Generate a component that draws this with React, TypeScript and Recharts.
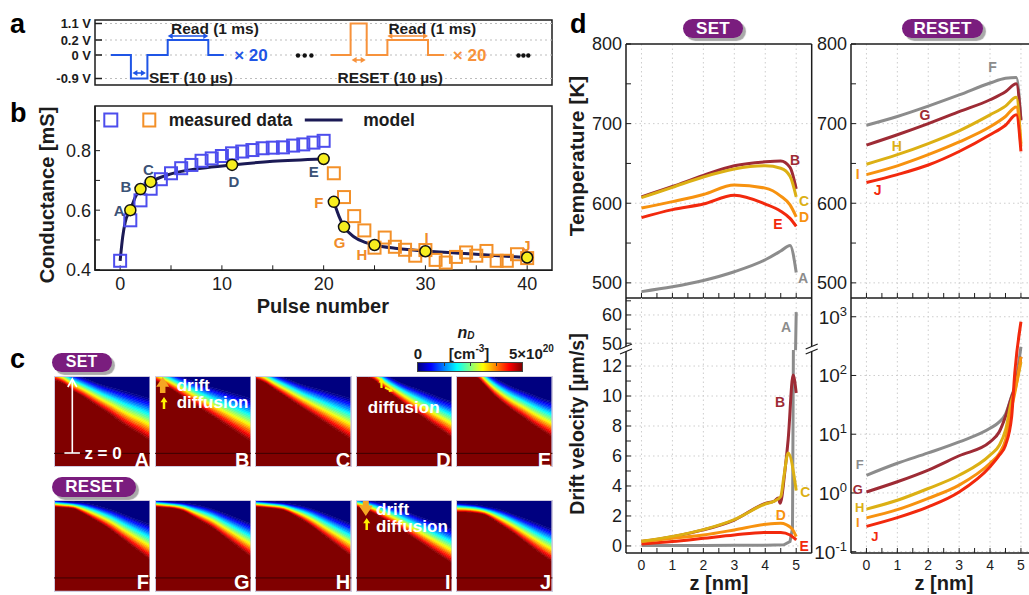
import React from 'react';
import {
  ComposedChart, AreaChart, Area, Line, Scatter, XAxis, YAxis, CartesianGrid,
  ReferenceArea, ReferenceLine, ReferenceDot,
} from 'recharts';

const FONT = 'Arial, "Liberation Sans", Helvetica, sans-serif';
const INK = '#1c1c1c';
const PURPLE = '#7a1d7e';

// ---------- a: pulse scheme (levels drawn schematically, not to scale) ----------
const voltLevels = [-0.9, 0, 0.2, 1.1];
const voltNames = ['-0.9 V', '0 V', '0.2 V', '1.1 V'];
const voltSlots = [-2.35, 0, 1.5, 3.15];
const setWaveT = [15.9, 35.9, 35.9, 52.4, 52.4, 72.7, 72.7, 113.3, 113.3, 128.8];
const setWaveV = [0, 0, -0.9, -0.9, 0, 0, 0.2, 0.2, 0, 0];
const resetWaveT = [235.6, 255.6, 255.6, 271.7, 271.7, 292.4, 292.4, 333, 333, 349.2];
const resetWaveV = [0, 0, 1.1, 1.1, 0, 0, 0.2, 0.2, 0, 0];

// ---------- b: conductance vs pulse number ----------
const setPulses = [0, 1, 2, 3, 4, 5, 6, 7, 8, 9, 10, 11, 12, 13, 14, 15, 16, 17, 18, 19, 20];
const setMeasured = [0.43, 0.566, 0.633, 0.672, 0.704, 0.724, 0.741, 0.752, 0.766, 0.774, 0.782,
  0.791, 0.797, 0.802, 0.808, 0.81, 0.811, 0.817, 0.821, 0.827, 0.833];
const resetPulses = [21, 22, 23, 24, 25, 26, 27, 28, 29, 30, 31, 32, 33, 34, 35, 36, 37, 38, 39, 40];
const resetMeasured = [0.724, 0.644, 0.58, 0.532, 0.474, 0.508, 0.477, 0.467, 0.447, 0.466,
  0.433, 0.424, 0.443, 0.458, 0.447, 0.463, 0.43, 0.43, 0.452, 0.439];
const setModelP = [0, 0.25, 0.5, 1, 1.5, 2, 3, 5, 8, 11, 15, 20];
const setModelG = [0.43, 0.51, 0.56, 0.6, 0.645, 0.671, 0.695, 0.722, 0.741, 0.752, 0.764, 0.772];
const resetModelP = [21, 21.5, 22, 23, 24, 25, 27, 30, 35, 40];
const resetModelG = [0.628, 0.58, 0.544, 0.51, 0.493, 0.483, 0.472, 0.463, 0.452, 0.441];
const stateNames = ['A', 'B', 'C', 'D', 'E', 'F', 'G', 'H', 'I', 'J'];
const statePulse = [1, 2, 3, 11, 20, 21, 22, 25, 30, 40];
const stateG = [0.6, 0.671, 0.695, 0.752, 0.772, 0.628, 0.544, 0.483, 0.462, 0.441];
const stateTagP = [-0.1, 0.58, 2.77, 11.17, 19.02, 19.53, 21.56, 23.76, 30.12, 39.93];
const stateTagG = [0.599, 0.679, 0.736, 0.696, 0.729, 0.626, 0.492, 0.452, 0.509, 0.482];

// ---------- c: donor density maps (edge of the saturated region / start of the empty region) ----------
const heatX = [0, 0.1, 0.2, 0.3, 0.4, 0.5, 0.6, 0.7, 0.8, 0.9, 1];
const fullA = [0.96, 0.92, 0.84, 0.78, 0.71, 0.64, 0.57, 0.49, 0.42, 0.36, 0.29];
const emptyA = [1.12, 1.07, 1.02, 0.98, 0.94, 0.9, 0.87, 0.84, 0.81, 0.78, 0.75];
const fullB = [0.95, 0.9, 0.84, 0.77, 0.7, 0.63, 0.56, 0.49, 0.42, 0.35, 0.28];
const emptyB = [1.12, 1.07, 1.02, 0.98, 0.94, 0.9, 0.87, 0.84, 0.81, 0.78, 0.75];
const fullC = [0.97, 0.93, 0.86, 0.79, 0.72, 0.65, 0.58, 0.51, 0.44, 0.37, 0.3];
const emptyC = [1.12, 1.07, 1.02, 0.98, 0.94, 0.9, 0.87, 0.84, 0.81, 0.78, 0.75];
const fullD = [1.03, 1.0, 0.95, 0.86, 0.78, 0.7, 0.62, 0.55, 0.47, 0.4, 0.32];
const emptyD = [1.3, 1.2, 1.1, 1.02, 0.96, 0.91, 0.87, 0.83, 0.79, 0.75, 0.72];
const fullE = [1.05, 1.03, 1.0, 0.9, 0.79, 0.7, 0.62, 0.55, 0.47, 0.4, 0.33];
const emptyE = [1.4, 1.3, 1.2, 1.06, 0.98, 0.92, 0.87, 0.83, 0.79, 0.75, 0.72];
const fullF = [0.93, 0.92, 0.91, 0.86, 0.8, 0.74, 0.67, 0.59, 0.51, 0.43, 0.35];
const emptyF = [1.0, 0.99, 0.98, 0.97, 0.95, 0.92, 0.89, 0.85, 0.81, 0.77, 0.73];
const fullG = [0.93, 0.92, 0.91, 0.88, 0.82, 0.76, 0.7, 0.62, 0.54, 0.46, 0.38];
const emptyG = [1.0, 0.99, 0.98, 0.97, 0.95, 0.93, 0.9, 0.86, 0.82, 0.78, 0.74];
const fullH = [0.93, 0.92, 0.91, 0.89, 0.84, 0.78, 0.71, 0.63, 0.55, 0.47, 0.39];
const emptyH = [1.0, 0.99, 0.98, 0.97, 0.95, 0.93, 0.9, 0.86, 0.82, 0.78, 0.74];
const fullI = [0.93, 0.9, 0.85, 0.79, 0.73, 0.66, 0.59, 0.52, 0.45, 0.38, 0.31];
const emptyI = [1.02, 1.0, 0.98, 0.95, 0.92, 0.88, 0.84, 0.8, 0.76, 0.72, 0.68];
const fullJ = [0.87, 0.87, 0.86, 0.84, 0.78, 0.71, 0.64, 0.56, 0.48, 0.4, 0.33];
const emptyJ = [0.97, 0.96, 0.95, 0.93, 0.91, 0.88, 0.84, 0.8, 0.76, 0.72, 0.68];

// ---------- d: temperature and drift velocity along z ----------
const tempZSet = [0, 1, 2, 3, 4, 4.5, 4.8, 5];
const tempA = [489, 495, 503, 514, 529, 540, 547, 513];
const tempB = [608, 621, 635, 647, 652, 653, 645, 618];
const tempC = [607, 620, 633, 643, 647, 644, 634, 608];
const tempD = [594, 602, 611, 623, 619, 609, 598, 583];
const tempE = [582, 592, 599, 610, 599, 590, 581, 571];
const tempZReset = [0, 1, 2, 3, 4, 4.5, 4.85, 5];
const tempF = [698, 709, 722, 736, 751, 757, 758, 705];
const tempG = [673, 686, 700, 715, 730, 740, 750, 704];
const tempH = [649, 661, 675, 691, 711, 722, 733, 675];
const tempI = [636, 647, 661, 677, 696, 709, 721, 671];
const tempJ = [626, 636, 648, 665, 686, 698, 711, 665];

const velZA = [0, 1, 2, 3, 4, 4.6, 4.8, 4.88, 4.95, 5];
const velA = [0.03, 0.03, 0.03, 0.04, 0.05, 0.08, 0.3, 1.2, 30, 61];
const velZB = [0, 1, 2, 3, 4, 4.3, 4.42, 4.48, 4.64, 4.74, 4.9, 5];
const velB = [0.3, 0.62, 1.07, 1.73, 2.84, 3.0, 3.2, 2.85, 5.1, 7.1, 11.4, 10.2];
const velZC = [0, 1, 2, 3, 4, 4.3, 4.5, 4.6, 4.74, 5];
const velC = [0.32, 0.64, 1.09, 1.76, 2.8, 3.0, 3.3, 4.6, 6.2, 3.7];
const velZD = [0, 1, 2, 3, 4, 4.5, 4.85, 5];
const velD = [0.29, 0.51, 0.73, 1.07, 1.44, 1.52, 1.18, 0.62];
const velZE = [0, 1, 2, 3, 4, 4.5, 4.8, 5];
const velE = [0.13, 0.29, 0.51, 0.73, 0.9, 0.89, 0.73, 0.4];
const velZReset = [0, 1, 2, 3, 4, 4.3, 4.5, 4.7, 4.8, 5];
const velF = [2.0, 3.2, 4.8, 7.4, 12.6, 16.2, 22, 45, 65, 309];
const velG = [1.04, 1.55, 2.45, 4.3, 7.4, 11, 20, 43.6, 60, 209];
const velH = [0.53, 0.75, 1.19, 2.0, 4.4, 6.5, 11.7, 38, 55, 170];
const velI = [0.377, 0.52, 0.81, 1.36, 3.2, 4.7, 7.9, 29, 50, 209];
const velJ = [0.27, 0.38, 0.58, 1.04, 2.8, 4.4, 6.5, 20, 110, 822];

const GREY = '#8c8c8c';
const MAROON = '#9e2b35';
const GOLD = '#dcb014';
const ORANGE = '#f7920f';
const RED = '#f2290d';

// ---------- helpers ----------
const PAD = 14;
const frame = (x: number, y: number, w: number, h: number, yw = 0, xh = 0) => ({
  style: { position: 'absolute', left: x - yw - PAD, top: y - PAD } as React.CSSProperties,
  width: w + yw + 2 * PAD,
  height: h + xh + 2 * PAD,
  margin: { top: PAD, right: PAD, bottom: PAD, left: PAD },
});

const zip = (xs: number[], ys: number[], kx: string, ky: string) =>
  xs.map((x, i) => ({ [kx]: x, [ky]: ys[i] }));

const slotOf = (v: number) => {
  for (let i = 0; i < voltLevels.length - 1; i++) {
    if (v <= voltLevels[i + 1]) {
      const f = (v - voltLevels[i]) / (voltLevels[i + 1] - voltLevels[i]);
      return voltSlots[i] + f * (voltSlots[i + 1] - voltSlots[i]);
    }
  }
  return voltSlots[voltSlots.length - 1];
};

const jet = (t: number) => {
  const c = (v: number) => Math.round(255 * Math.max(0, Math.min(1, v)));
  return `rgb(${c(1.5 - Math.abs(4 * t - 3))},${c(1.5 - Math.abs(4 * t - 2))},${c(1.5 - Math.abs(4 * t - 1))})`;
};
const HEAT_BANDS = 24;
const bandKeys = Array.from({ length: HEAT_BANDS }, (_, k) => 'b' + k);
const bandColors = bandKeys.map((_, k) => jet(1 - (k + 0.5) / HEAT_BANDS));

const Txt = ({ x, y, size = 15, bold = true, anchor = 'start', color = INK, italic = false, rotate = false, children }: any) => (
  <text x={x} y={y} fontSize={size} fontWeight={bold ? 700 : 400} fontStyle={italic ? 'italic' : 'normal'}
    textAnchor={anchor} dominantBaseline="central" fill={color} fontFamily={FONT}
    transform={rotate ? `rotate(-90 ${x} ${y})` : undefined}>{children}</text>
);

const Pill = ({ x, y, w, h, text, size }: any) => (
  <div style={{
    position: 'absolute', left: x, top: y, width: w, height: h, borderRadius: h / 2, background: PURPLE,
    boxShadow: '3px 3px 1px #a9a9a9', color: '#fff', fontWeight: 700, fontSize: size, fontFamily: FONT,
    display: 'flex', alignItems: 'center', justifyContent: 'center', letterSpacing: 0.3,
  }}>{text}</div>
);

// ---------- panel a ----------
const PanelA = () => {
  const f = frame(95, 20, 457, 65, 80, 0);
  return (
    <div style={f.style}>
      <ComposedChart width={f.width} height={f.height} margin={f.margin}>
        <XAxis type="number" dataKey="t" domain={[0, 457]} hide />
        <YAxis type="number" dataKey="s" domain={[-3.0, 3.5]} ticks={voltSlots} interval={0}
          tickFormatter={(s: number) => voltNames[voltSlots.indexOf(s)]} width={80} tickSize={-7} tickMargin={11}
          tick={{ fontSize: 13, fontWeight: 700, fill: INK, fontFamily: FONT }} axisLine={false}
          tickLine={{ stroke: INK, strokeWidth: 1.5 }} />
        {voltSlots.map((s) => (
          <ReferenceLine key={s} y={s} stroke="#bdbdbd" strokeDasharray="2 3" />
        ))}
        <ReferenceArea x1={0} x2={457} y1={-3.0} y2={3.5} fill="none" stroke={INK} strokeWidth={1.5} />
        <Line data={setWaveT.map((t, i) => ({ t, s: slotOf(setWaveV[i]) }))} dataKey="s" type="linear"
          stroke="#1f55e6" strokeWidth={2} dot={false} isAnimationActive={false} />
        <Line data={resetWaveT.map((t, i) => ({ t, s: slotOf(resetWaveV[i]) }))} dataKey="s" type="linear"
          stroke="#f7923b" strokeWidth={2} dot={false} isAnimationActive={false} />
      </ComposedChart>
    </div>
  );
};

// ---------- panel b ----------
const hollowSquare = (color: string) => (p: any) =>
  p.cx == null ? <g /> : <rect x={p.cx - 6} y={p.cy - 6} width={12} height={12} fill="none" stroke={color} strokeWidth={2} />;
const yellowDot = (p: any) =>
  p.cx == null ? <g /> : <circle cx={p.cx} cy={p.cy} r={5.5} fill="#f7ee1f" stroke="#111" strokeWidth={1.5} />;

const PanelB = () => {
  const f = frame(94.7, 105.7, 457, 164.3, 75, 40);
  const xDom: [number, number] = [-2.47, 42.44];
  const yDom: [number, number] = [0.398, 0.95];
  const yMajor = [0.4, 0.6, 0.8];
  return (
    <div style={f.style}>
      <ComposedChart width={f.width} height={f.height} margin={f.margin}>
        <XAxis type="number" dataKey="p" domain={xDom} allowDataOverflow ticks={[0, 5, 10, 15, 20, 25, 30, 35, 40]}
          interval={0} tickFormatter={(v: number) => (v % 10 === 0 ? String(v) : '')} height={40} tickSize={-5}
          tickMargin={12} tick={{ fontSize: 18, fill: INK, fontFamily: FONT }} axisLine={{ stroke: INK, strokeWidth: 1.5 }}
          tickLine={{ stroke: INK }} />
        <YAxis type="number" dataKey="g" domain={yDom} allowDataOverflow ticks={[0.4, 0.5, 0.6, 0.7, 0.8, 0.9]}
          interval={0} tickFormatter={(v: number) => (yMajor.includes(v) ? v.toFixed(1) : '')} width={75}
          tickSize={-5} tickMargin={9} tick={{ fontSize: 18, fill: INK, fontFamily: FONT }}
          axisLine={{ stroke: INK, strokeWidth: 1.5 }} tickLine={{ stroke: INK }} />
        <ReferenceArea x1={xDom[0]} x2={xDom[1]} y1={yDom[0]} y2={yDom[1]} fill="none" stroke={INK} strokeWidth={1.5} />
        <Scatter data={zip(setPulses, setMeasured, 'p', 'g')} dataKey="g" shape={hollowSquare('#4d4ded')} isAnimationActive={false} />
        <Scatter data={zip(resetPulses, resetMeasured, 'p', 'g')} dataKey="g" shape={hollowSquare('#f39028')} isAnimationActive={false} />
        <Line data={zip(setModelP, setModelG, 'p', 'g')} dataKey="g" type="monotone" stroke="#1b1a55" strokeWidth={3}
          dot={false} isAnimationActive={false} />
        <Line data={zip(resetModelP, resetModelG, 'p', 'g')} dataKey="g" type="monotone" stroke="#1b1a55" strokeWidth={3}
          dot={false} isAnimationActive={false} />
        <Scatter data={zip(statePulse, stateG, 'p', 'g')} dataKey="g" shape={yellowDot} isAnimationActive={false} />
        {stateNames.map((n, i) => (
          <ReferenceDot key={n} x={stateTagP[i]} y={stateTagG[i]} r={1} fill="none" stroke="none"
            label={{ value: n, position: 'center', fill: i < 5 ? '#3b5276' : '#f08c2a', fontSize: 15, fontWeight: 700, fontFamily: FONT }} />
        ))}
      </ComposedChart>
    </div>
  );
};

// ---------- panel c ----------
const heatRows = (full: number[], empty: number[]) =>
  heatX.map((x, i) => {
    const row: Record<string, number> = { x, L: full[i], T: 2 - empty[i] };
    const step = (empty[i] - full[i]) / HEAT_BANDS;
    bandKeys.forEach((k) => { row[k] = step; });
    return row;
  });

const HeatPanel = ({ x, y, w, h, full, empty }: any) => (
  <div style={{ position: 'absolute', left: x, top: y }}>
    <AreaChart width={w} height={h} data={heatRows(full, empty)} margin={{ top: 0, right: 0, bottom: 0, left: 0 }}>
      <XAxis type="number" dataKey="x" domain={[0, 1]} hide />
      <YAxis type="number" domain={[0, 1]} hide allowDataOverflow />
      <Area dataKey="L" stackId="n" type="monotone" fill={jet(1)} stroke={jet(1)} fillOpacity={1} isAnimationActive={false} />
      {bandKeys.map((k, i) => (
        <Area key={k} dataKey={k} stackId="n" type="monotone" fill={bandColors[i]} stroke={bandColors[i]}
          strokeWidth={0.8} fillOpacity={1} isAnimationActive={false} />
      ))}
      <Area dataKey="T" stackId="n" type="monotone" fill={jet(0)} stroke="none" fillOpacity={1} isAnimationActive={false} />
      <ReferenceLine y={0.15} stroke="#3a0000" strokeWidth={1} />
      <ReferenceArea x1={0} x2={1} y1={0} y2={1} fill="none" stroke="#cfcadf" strokeWidth={2} />
    </AreaChart>
  </div>
);

const heatSet = [[fullA, emptyA], [fullB, emptyB], [fullC, emptyC], [fullD, emptyD], [fullE, emptyE]];
const heatReset = [[fullF, emptyF], [fullG, emptyG], [fullH, emptyH], [fullI, emptyI], [fullJ, emptyJ]];
const HX0 = 54.1;
const HSTEP = 100.55;
const HW = 96.4;

// ---------- panel d ----------
const zDom: [number, number] = [-0.5, 5.5];
const zTicks = [0, 0.5, 1, 1.5, 2, 2.5, 3, 3.5, 4, 4.5, 5];
const zMajor = [0, 1, 2, 3, 4, 5];

const PowTick = (p: any) => {
  const e = Math.round(Math.log10(p.payload.value));
  return (
    <text x={p.x} y={p.y} dy="0.36em" textAnchor="end" fontSize={19} fill={INK} fontFamily={FONT}>
      10<tspan dy={-8} fontSize={13}>{e}</tspan>
    </text>
  );
};

const CurvePlot = ({ x, y, w, h, domain, ticks, major, grid, log = false, series, tags = [], tagSize = 14, bottom = true, xLabels = false, top = false }: any) => {
  const yw = 56;
  const xh = xLabels ? 26 : 1;
  const f = frame(x, y, w, h, yw, bottom ? xh : 0);
  return (
    <div style={f.style}>
      <ComposedChart width={f.width} height={f.height} margin={f.margin}>
        <CartesianGrid stroke="#cdcdcd" strokeDasharray="1.5 3" horizontalValues={grid} verticalValues={zMajor} />
        <XAxis type="number" dataKey="z" domain={zDom} allowDataOverflow ticks={zTicks} interval={0} hide={!bottom}
          height={xh} tickSize={-5} tickMargin={12}
          tickFormatter={(v: number) => (xLabels && Number.isInteger(v) ? String(v) : '')}
          tick={{ fontSize: 14, fill: INK, fontFamily: FONT }} axisLine={{ stroke: INK, strokeWidth: 1.5 }}
          tickLine={{ stroke: INK }} />
        <YAxis type="number" dataKey="v" scale={log ? 'log' : 'linear'} domain={domain} allowDataOverflow ticks={ticks}
          interval={0} width={yw} tickSize={-5} tickMargin={9}
          tick={log ? <PowTick /> : { fontSize: 18, fill: INK, fontFamily: FONT }}
          tickFormatter={(v: number) => (major.includes(v) ? String(v) : '')}
          axisLine={{ stroke: INK, strokeWidth: 1.5 }} tickLine={{ stroke: INK }} />
        <ReferenceLine x={zDom[1]} stroke={INK} strokeWidth={1.5} />
        {top && <ReferenceLine y={domain[1]} stroke={INK} strokeWidth={1.5} />}
        {series.map((s: any, i: number) => (
          <Line key={i} data={zip(s.z, s.v, 'z', 'v')} dataKey="v" type={s.linear ? 'linear' : 'monotone'}
            stroke={s.color} strokeWidth={3} dot={false} isAnimationActive={false} />
        ))}
        {tags.map((t: any) => (
          <ReferenceDot key={t.text} x={t.z} y={t.v} r={1} fill="none" stroke="none"
            label={{ value: t.text, position: 'center', fill: t.color, fontSize: tagSize, fontWeight: 700, fontFamily: FONT }} />
        ))}
      </ComposedChart>
    </div>
  );
};

const tempSetSeries = [
  { z: tempZSet, v: tempA, color: GREY }, { z: tempZSet, v: tempB, color: MAROON },
  { z: tempZSet, v: tempC, color: GOLD }, { z: tempZSet, v: tempD, color: ORANGE },
  { z: tempZSet, v: tempE, color: RED },
];
const tempResetSeries = [
  { z: tempZReset, v: tempF, color: GREY }, { z: tempZReset, v: tempG, color: MAROON },
  { z: tempZReset, v: tempH, color: GOLD }, { z: tempZReset, v: tempI, color: ORANGE },
  { z: tempZReset, v: tempJ, color: RED },
];
const velSetSeries = [
  { z: velZA, v: velA, color: GREY, linear: true }, { z: velZB, v: velB, color: MAROON },
  { z: velZE, v: velE, color: RED }, { z: velZD, v: velD, color: ORANGE }, { z: velZC, v: velC, color: GOLD },
];
const velResetSeries = [
  { z: velZReset, v: velF, color: GREY }, { z: velZReset, v: velG, color: MAROON },
  { z: velZReset, v: velH, color: GOLD }, { z: velZReset, v: velI, color: ORANGE },
  { z: velZReset, v: velJ, color: RED },
];
const tempSetTags = [
  { text: 'A', z: 5.22, v: 506, color: GREY }, { text: 'B', z: 4.96, v: 654, color: MAROON },
  { text: 'C', z: 5.25, v: 603, color: GOLD }, { text: 'D', z: 5.25, v: 583, color: ORANGE },
  { text: 'E', z: 4.41, v: 574, color: RED },
];
const tempResetTags = [
  { text: 'F', z: 4.08, v: 771, color: GREY }, { text: 'G', z: 1.89, v: 711, color: MAROON },
  { text: 'H', z: 0.98, v: 672, color: GOLD }, { text: 'I', z: -0.28, v: 637, color: ORANGE },
  { text: 'J', z: 0.36, v: 616, color: RED },
];
const velUpperTags = [{ text: 'A', z: 4.67, v: 55.8, color: GREY }];
const velLowerTags = [
  { text: 'B', z: 4.48, v: 9.6, color: MAROON }, { text: 'C', z: 5.29, v: 3.6, color: GOLD },
  { text: 'D', z: 4.5, v: 2.07, color: ORANGE }, { text: 'E', z: 5.26, v: 0.0, color: RED },
];
const velResetTags = [
  { text: 'F', z: -0.22, v: 3.1, color: GREY }, { text: 'G', z: -0.28, v: 1.16, color: MAROON },
  { text: 'H', z: -0.22, v: 0.56, color: GOLD }, { text: 'I', z: -0.28, v: 0.31, color: ORANGE },
  { text: 'J', z: 0.27, v: 0.18, color: RED },
];

// ---------- overlay shapes ----------
const DoubleArrow = ({ x1, x2, y, color }: any) => (
  <g>
    <line x1={x1 + 3} y1={y} x2={x2 - 3} y2={y} stroke={color} strokeWidth={1.6} />
    <polygon points={`${x1},${y} ${x1 + 5},${y - 3} ${x1 + 5},${y + 3}`} fill={color} />
    <polygon points={`${x2},${y} ${x2 - 5},${y - 3} ${x2 - 5},${y + 3}`} fill={color} />
  </g>
);

const BlockArrow = ({ x1, y1, x2, y2, head, shaft, color }: any) => {
  const len = Math.hypot(x2 - x1, y2 - y1);
  const ux = (x2 - x1) / len;
  const uy = (y2 - y1) / len;
  const px = -uy;
  const py = ux;
  const hl = head * 0.75;
  const nx = x2 - ux * hl;
  const ny = y2 - uy * hl;
  const pts = [
    [x1 + px * shaft / 2, y1 + py * shaft / 2], [nx + px * shaft / 2, ny + py * shaft / 2],
    [nx + px * head / 2, ny + py * head / 2], [x2, y2], [nx - px * head / 2, ny - py * head / 2],
    [nx - px * shaft / 2, ny - py * shaft / 2], [x1 - px * shaft / 2, y1 - py * shaft / 2],
  ];
  return <polygon points={pts.map((q) => q.join(',')).join(' ')} fill={color} />;
};

const BreakMark = ({ x, y }: any) => (
  <g>
    <polygon points={`${x - 6},${y - 1} ${x + 6},${y - 6} ${x + 6},${y - 1} ${x - 6},${y + 4}`} fill="#fff" />
    <line x1={x - 6} y1={y - 1} x2={x + 6} y2={y - 6} stroke={INK} strokeWidth={1.3} />
    <line x1={x - 6} y1={y + 4} x2={x + 6} y2={y - 1} stroke={INK} strokeWidth={1.3} />
  </g>
);

const Overlay = () => {
  const ax = (t: number) => 95 + t;
  return (
    <svg width={1029} height={595} style={{ position: 'absolute', left: 0, top: 0, pointerEvents: 'none' }}>
      {/* panel letters */}
      <text x={10} y={33} fontSize={27} fontWeight={700} fontFamily={FONT} fill="#000">a</text>
      <text x={10} y={122} fontSize={27} fontWeight={700} fontFamily={FONT} fill="#000">b</text>
      <text x={10} y={368} fontSize={27} fontWeight={700} fontFamily={FONT} fill="#000">c</text>
      <text x={570} y={33} fontSize={27} fontWeight={700} fontFamily={FONT} fill="#000">d</text>

      {/* a */}
      <DoubleArrow x1={ax(setWaveT[6])} x2={ax(setWaveT[7])} y={36} color="#1f55e6" />
      <DoubleArrow x1={ax(setWaveT[2]) + 1.5} x2={ax(setWaveT[3]) - 1.5} y={73} color="#1f55e6" />
      <DoubleArrow x1={ax(resetWaveT[6])} x2={ax(resetWaveT[7])} y={36} color="#f7923b" />
      <DoubleArrow x1={ax(resetWaveT[2]) + 1} x2={ax(resetWaveT[3]) - 1} y={60} color="#f7923b" />
      <Txt x={171} y={28} size={15.5}>Read (1 ms)</Txt>
      <Txt x={388.4} y={28} size={15.5}>Read (1 ms)</Txt>
      <Txt x={149} y={77} size={15.5}>SET (10 µs)</Txt>
      <Txt x={337.5} y={77} size={15.5}>RESET (10 µs)</Txt>
      <Txt x={234.2} y={55} size={17} color="#1f55e6">× 20</Txt>
      <Txt x={452.8} y={55} size={17} color="#f7923b">× 20</Txt>
      {[298, 304.7, 311.4, 518.5, 523.4, 528.3].map((cx) => (
        <circle key={cx} cx={cx} cy={55.5} r={2.2} fill="#111" />
      ))}

      {/* b */}
      <rect x={104.3} y={113.5} width={13} height={13} fill="none" stroke="#4d4ded" strokeWidth={2} />
      <rect x={143.3} y={113.5} width={12} height={13} fill="none" stroke="#f39028" strokeWidth={2} />
      <Txt x={168.7} y={120} size={17.5}>measured data</Txt>
      <line x1={304.8} y1={120} x2={342.6} y2={120} stroke="#1b1a55" strokeWidth={3} />
      <Txt x={363.3} y={120} size={17.5}>model</Txt>
      <Txt x={46.5} y={195} size={20} anchor="middle" rotate>Conductance [mS]</Txt>
      <Txt x={322.8} y={306} size={20} anchor="middle">Pulse number</Txt>

      {/* c annotations */}
      <line x1={72.3} y1={453} x2={72.3} y2={380} stroke="#fff" strokeWidth={1.6} />
      <polyline points="67.8,387 72.3,379 76.8,387" fill="none" stroke="#fff" strokeWidth={1.6} />
      <line x1={64.4} y1={453} x2={79.9} y2={453} stroke="#fff" strokeWidth={1.6} />
      <Txt x={84.4} y={453} size={17} color="#fff">z = 0</Txt>
      <BlockArrow x1={162.7} y1={393} x2={162.7} y2={377} head={13} shaft={5.5} color="#f5a623" />
      <BlockArrow x1={164} y1={409} x2={164} y2={397} head={7} shaft={2.5} color="#fff200" />
      <Txt x={176.7} y={385} size={17} color="#fff">drift</Txt>
      <Txt x={176.7} y={402} size={17} color="#fff">diffusion</Txt>
      <BlockArrow x1={381.5} y1={388} x2={381.5} y2={378} head={6} shaft={2.2} color="#fff200" />
      <BlockArrow x1={385} y1={387.5} x2={393} y2={391.5} head={5} shaft={2} color="#fff200" />
      <Txt x={367.8} y={407} size={17} color="#fff">diffusion</Txt>
      <BlockArrow x1={365.8} y1={501} x2={365.8} y2={516} head={14} shaft={6} color="#f5a623" />
      <BlockArrow x1={366.7} y1={530} x2={366.7} y2={518} head={7} shaft={2.5} color="#fff200" />
      <Txt x={376} y={509} size={17} color="#fff">drift</Txt>
      <Txt x={376} y={526} size={17} color="#fff">diffusion</Txt>
      {stateNames.map((n, i) => (
        <Txt key={n} x={HX0 + (i % 5) * HSTEP + HW - 1.5} y={i < 5 ? 460 : 582} size={20} anchor="end" color="#fff">{n}</Txt>
      ))}
      <Txt x={418} y={353} size={15} anchor="middle">0</Txt>
      <text x={469} y={353} fontSize={15} fontWeight={700} fontFamily={FONT} textAnchor="middle" dominantBaseline="central" fill={INK}>
        [cm<tspan dy={-5} fontSize={10}>-3</tspan><tspan dy={5}>]</tspan>
      </text>
      <text x={509} y={353} fontSize={15} fontWeight={700} fontFamily={FONT} dominantBaseline="central" fill={INK}>
        5×10<tspan dy={-5} fontSize={10}>20</tspan>
      </text>
      <text x={466} y={332} fontSize={16} fontWeight={700} fontStyle="italic" fontFamily={FONT} textAnchor="middle" dominantBaseline="central" fill={INK}>
        n<tspan dy={3} fontSize={10}>D</tspan>
      </text>

      {/* d */}
      <Txt x={576} y={156} size={21} anchor="middle" rotate>Temperature [K]</Txt>
      <Txt x={577} y={424} size={19.5} anchor="middle" rotate>Drift velocity [µm/s]</Txt>
      <Txt x={719} y={583} size={20} anchor="middle">z [nm]</Txt>
      <Txt x={944} y={583} size={20} anchor="middle">z [nm]</Txt>
      <BreakMark x={626} y={350} />
      <BreakMark x={811.7} y={350} />
    </svg>
  );
};

const Colorbar = () => (
  <div style={{
    position: 'absolute', left: 417.4, top: 361.7, width: 106, height: 10.6, border: '1px solid #444', boxSizing: 'border-box',
    background: `linear-gradient(to right, ${Array.from({ length: 9 }, (_, i) => jet(i / 8)).join(',')})`,
  }}>
    {[0.25, 0.5, 0.75].map((f) => (
      <div key={f} style={{ position: 'absolute', left: `${f * 100}%`, top: 0, width: 1, height: 3, background: '#333' }} />
    ))}
  </div>
);

export default function App() {
  return (
    <div style={{ position: 'absolute', left: 0, top: 0, width: 1029, height: 595, overflow: 'hidden', background: '#fff', fontFamily: FONT }}>
      <PanelA />
      <PanelB />
      {heatSet.map(([full, empty], i) => (
        <HeatPanel key={'s' + i} x={HX0 + i * HSTEP} y={375.7} w={HW} h={91} full={full} empty={empty} />
      ))}
      {heatReset.map(([full, empty], i) => (
        <HeatPanel key={'r' + i} x={HX0 + i * HSTEP} y={500} w={HW} h={91.7} full={full} empty={empty} />
      ))}
      <Colorbar />
      <CurvePlot x={626} y={44} w={185.7} h={254} domain={[481, 800]} ticks={[500, 550, 600, 650, 700, 750, 800]}
        major={[500, 600, 700, 800]} grid={[500, 600, 700]} series={tempSetSeries} tags={tempSetTags} top />
      <CurvePlot x={851.2} y={44} w={185.4} h={254} domain={[481, 800]} ticks={[500, 550, 600, 650, 700, 750, 800]}
        major={[500, 600, 700, 800]} grid={[500, 600, 700]} series={tempResetSeries} tags={tempResetTags} top />
      <CurvePlot x={626} y={298} w={185.7} h={52} domain={[47.6, 66]} ticks={[50, 55, 60, 65]} major={[50, 60]}
        grid={[50, 60]} series={velSetSeries} tags={velUpperTags} bottom={false} />
      <CurvePlot x={626} y={350} w={185.7} h={203} domain={[-0.47, 13.07]}
        ticks={[0, 1, 2, 3, 4, 5, 6, 7, 8, 9, 10, 11, 12]} major={[0, 2, 4, 6, 8, 10, 12]} grid={[0, 2, 4, 6, 8, 10, 12]}
        series={velSetSeries} tags={velLowerTags} xLabels />
      <CurvePlot x={851.2} y={298} w={185.4} h={255} domain={[0.095, 2085]} log ticks={[0.1, 1, 10, 100, 1000]}
        major={[0.1, 1, 10, 100, 1000]} grid={[0.1, 1, 10, 100, 1000]} series={velResetSeries} tags={velResetTags}
        tagSize={13} xLabels />
      <Pill x={51.7} y={352.7} w={60} h={19} text="SET" size={16} />
      <Pill x={52.3} y={477} w={84} h={20} text="RESET" size={17} />
      <Pill x={683} y={19} w={60} h={19} text="SET" size={17} />
      <Pill x={902} y={19} w={81} h={19} text="RESET" size={17} />
      <Overlay />
    </div>
  );
}
